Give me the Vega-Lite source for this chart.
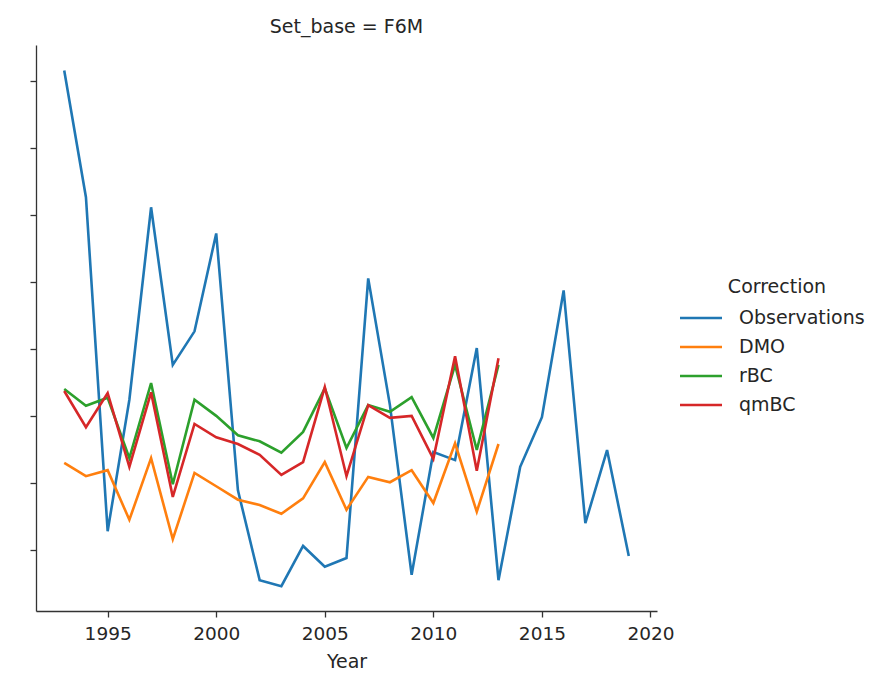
{
  "$schema": "https://vega.github.io/schema/vega-lite/v6.json",
  "autosize": {"type": "none"},
  "padding": {"left": 36, "top": 45, "right": 214, "bottom": 69},
  "width": 621,
  "height": 566,
  "background": "white",
  "title": {"text": "Set_base = F6M", "font": "DejaVu Sans", "fontSize": 19, "fontWeight": "normal", "color": "#262626", "offset": 8, "anchor": "middle"},
  "config": {
    "view": {"stroke": null},
    "font": "DejaVu Sans",
    "axis": {"domainColor": "#333333", "tickColor": "#333333", "domainWidth": 1.3, "tickWidth": 1.3, "tickSize": 6, "labelFont": "DejaVu Sans", "labelFontSize": 18.5, "labelColor": "#262626", "titleFont": "DejaVu Sans", "titleFontSize": 19, "titleFontWeight": "normal", "titleColor": "#262626", "grid": false}
  },
  "data": {"values": [
    {"Year": 1993, "Correction": "Observations", "Value": 8.15},
    {"Year": 1994, "Correction": "Observations", "Value": 6.26},
    {"Year": 1995, "Correction": "Observations", "Value": 1.28},
    {"Year": 1996, "Correction": "Observations", "Value": 3.24},
    {"Year": 1997, "Correction": "Observations", "Value": 6.11},
    {"Year": 1998, "Correction": "Observations", "Value": 3.76},
    {"Year": 1999, "Correction": "Observations", "Value": 4.26},
    {"Year": 2000, "Correction": "Observations", "Value": 5.72},
    {"Year": 2001, "Correction": "Observations", "Value": 1.89},
    {"Year": 2002, "Correction": "Observations", "Value": 0.55},
    {"Year": 2003, "Correction": "Observations", "Value": 0.46},
    {"Year": 2004, "Correction": "Observations", "Value": 1.06},
    {"Year": 2005, "Correction": "Observations", "Value": 0.75},
    {"Year": 2006, "Correction": "Observations", "Value": 0.88},
    {"Year": 2007, "Correction": "Observations", "Value": 5.05},
    {"Year": 2008, "Correction": "Observations", "Value": 3.16},
    {"Year": 2009, "Correction": "Observations", "Value": 0.63},
    {"Year": 2010, "Correction": "Observations", "Value": 2.46},
    {"Year": 2011, "Correction": "Observations", "Value": 2.34},
    {"Year": 2012, "Correction": "Observations", "Value": 4.01},
    {"Year": 2013, "Correction": "Observations", "Value": 0.55},
    {"Year": 2014, "Correction": "Observations", "Value": 2.24},
    {"Year": 2015, "Correction": "Observations", "Value": 2.98},
    {"Year": 2016, "Correction": "Observations", "Value": 4.87},
    {"Year": 2017, "Correction": "Observations", "Value": 1.40},
    {"Year": 2018, "Correction": "Observations", "Value": 2.49},
    {"Year": 2019, "Correction": "Observations", "Value": 0.91},
    {"Year": 1993, "Correction": "DMO", "Value": 2.30},
    {"Year": 1994, "Correction": "DMO", "Value": 2.10},
    {"Year": 1995, "Correction": "DMO", "Value": 2.19},
    {"Year": 1996, "Correction": "DMO", "Value": 1.45},
    {"Year": 1997, "Correction": "DMO", "Value": 2.37},
    {"Year": 1998, "Correction": "DMO", "Value": 1.16},
    {"Year": 1999, "Correction": "DMO", "Value": 2.15},
    {"Year": 2000, "Correction": "DMO", "Value": 1.95},
    {"Year": 2001, "Correction": "DMO", "Value": 1.75},
    {"Year": 2002, "Correction": "DMO", "Value": 1.67},
    {"Year": 2003, "Correction": "DMO", "Value": 1.54},
    {"Year": 2004, "Correction": "DMO", "Value": 1.77},
    {"Year": 2005, "Correction": "DMO", "Value": 2.31},
    {"Year": 2006, "Correction": "DMO", "Value": 1.60},
    {"Year": 2007, "Correction": "DMO", "Value": 2.09},
    {"Year": 2008, "Correction": "DMO", "Value": 2.01},
    {"Year": 2009, "Correction": "DMO", "Value": 2.19},
    {"Year": 2010, "Correction": "DMO", "Value": 1.70},
    {"Year": 2011, "Correction": "DMO", "Value": 2.59},
    {"Year": 2012, "Correction": "DMO", "Value": 1.57},
    {"Year": 2013, "Correction": "DMO", "Value": 2.58},
    {"Year": 1993, "Correction": "rBC", "Value": 3.40},
    {"Year": 1994, "Correction": "rBC", "Value": 3.15},
    {"Year": 1995, "Correction": "rBC", "Value": 3.27},
    {"Year": 1996, "Correction": "rBC", "Value": 2.37},
    {"Year": 1997, "Correction": "rBC", "Value": 3.49},
    {"Year": 1998, "Correction": "rBC", "Value": 1.98},
    {"Year": 1999, "Correction": "rBC", "Value": 3.24},
    {"Year": 2000, "Correction": "rBC", "Value": 3.00},
    {"Year": 2001, "Correction": "rBC", "Value": 2.71},
    {"Year": 2002, "Correction": "rBC", "Value": 2.62},
    {"Year": 2003, "Correction": "rBC", "Value": 2.45},
    {"Year": 2004, "Correction": "rBC", "Value": 2.76},
    {"Year": 2005, "Correction": "rBC", "Value": 3.41},
    {"Year": 2006, "Correction": "rBC", "Value": 2.52},
    {"Year": 2007, "Correction": "rBC", "Value": 3.16},
    {"Year": 2008, "Correction": "rBC", "Value": 3.06},
    {"Year": 2009, "Correction": "rBC", "Value": 3.28},
    {"Year": 2010, "Correction": "rBC", "Value": 2.67},
    {"Year": 2011, "Correction": "rBC", "Value": 3.76},
    {"Year": 2012, "Correction": "rBC", "Value": 2.49},
    {"Year": 2013, "Correction": "rBC", "Value": 3.76},
    {"Year": 1993, "Correction": "qmBC", "Value": 3.37},
    {"Year": 1994, "Correction": "qmBC", "Value": 2.83},
    {"Year": 1995, "Correction": "qmBC", "Value": 3.34},
    {"Year": 1996, "Correction": "qmBC", "Value": 2.24},
    {"Year": 1997, "Correction": "qmBC", "Value": 3.35},
    {"Year": 1998, "Correction": "qmBC", "Value": 1.79},
    {"Year": 1999, "Correction": "qmBC", "Value": 2.88},
    {"Year": 2000, "Correction": "qmBC", "Value": 2.68},
    {"Year": 2001, "Correction": "qmBC", "Value": 2.58},
    {"Year": 2002, "Correction": "qmBC", "Value": 2.42},
    {"Year": 2003, "Correction": "qmBC", "Value": 2.12},
    {"Year": 2004, "Correction": "qmBC", "Value": 2.31},
    {"Year": 2005, "Correction": "qmBC", "Value": 3.43},
    {"Year": 2006, "Correction": "qmBC", "Value": 2.10},
    {"Year": 2007, "Correction": "qmBC", "Value": 3.16},
    {"Year": 2008, "Correction": "qmBC", "Value": 2.97},
    {"Year": 2009, "Correction": "qmBC", "Value": 3.00},
    {"Year": 2010, "Correction": "qmBC", "Value": 2.36},
    {"Year": 2011, "Correction": "qmBC", "Value": 3.89},
    {"Year": 2012, "Correction": "qmBC", "Value": 2.18},
    {"Year": 2013, "Correction": "qmBC", "Value": 3.86}
  ]},
  "mark": {"type": "line", "strokeWidth": 2.6},
  "encoding": {
    "x": {"field": "Year", "type": "quantitative", "scale": {"domain": [1991.7, 2020.3], "nice": false, "zero": false},
          "axis": {"values": [1995, 2000, 2005, 2010, 2015, 2020], "format": "d", "labelPadding": 7, "titlePadding": 10, "labelFlush": false}},
    "y": {"field": "Value", "type": "quantitative", "scale": {"domain": [0.09, 8.53], "nice": false, "zero": false},
          "axis": {"values": [1, 2, 3, 4, 5, 6, 7, 8], "labels": false, "title": null}},
    "color": {"field": "Correction", "type": "nominal",
              "scale": {"domain": ["Observations", "DMO", "rBC", "qmBC"], "range": ["#1f77b4", "#ff7f0e", "#2ca02c", "#d62728"]},
              "sort": ["Observations", "DMO", "rBC", "qmBC"],
              "legend": {"orient": "none", "legendX": 653, "legendY": 233, "symbolType": "M-2,0H2", "symbolSize": 441, "symbolStrokeWidth": 2.6,
                         "labelFontSize": 19, "labelFont": "DejaVu Sans", "labelColor": "#262626", "labelOffset": 26,
                         "titleFontSize": 19, "titleFont": "DejaVu Sans", "titleFontWeight": "normal", "titleColor": "#262626", "titleAnchor": "middle", "titlePadding": 9, "rowPadding": 7}}
  }
}
